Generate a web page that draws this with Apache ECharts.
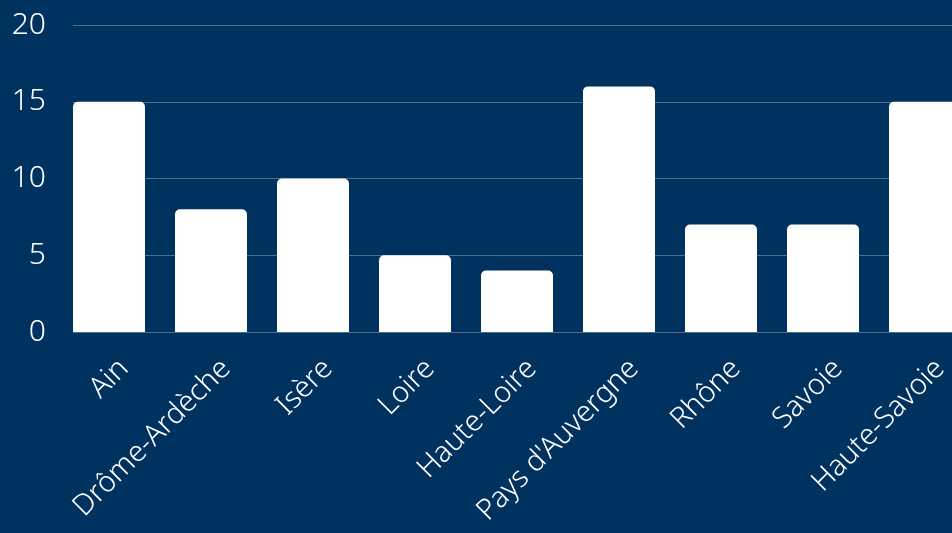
<!DOCTYPE html>
<html><head><meta charset="utf-8">
<script src="https://cdn.jsdelivr.net/npm/echarts@6/dist/echarts.min.js"></script>
<style>html,body{margin:0;padding:0;background:#00325f;overflow:hidden;width:952px;height:533px}#c{width:991px;height:533px}</style>
</head><body><div id="c"></div>
<script>
const categories = ["Ain","Drôme-Ardèche","Isère","Loire","Haute-Loire","Pays d'Auvergne","Rhône","Savoie","Haute-Savoie"];
const values = [15,8,10,5,4,16,7,7,15];
const yTicks = {min:0,max:20,interval:5};
const chart = echarts.init(document.getElementById('c'));
chart.setOption({
  backgroundColor:'#00325f',
  animation:false,
  grid:{left:73,right:0,top:25,bottom:201,containLabel:false},
  xAxis:{type:'category',data:categories,
    axisLine:{show:false},axisTick:{show:false},
    axisLabel:{color:'#fff',fontFamily:'Noto Sans',fontWeight:300,fontSize:29,rotate:45,margin:32,interval:0}},
  yAxis:{type:'value',min:yTicks.min,max:yTicks.max,interval:yTicks.interval,
    axisLine:{show:false},axisTick:{show:false},
    axisLabel:{color:'#fff',fontFamily:'Noto Sans',fontWeight:300,fontSize:30,margin:27,align:'right'},
    splitLine:{lineStyle:{color:'rgba(255,255,255,0.3)',width:1}}},
  series:[
    {type:'bar',data:values,barWidth:72,barGap:0,itemStyle:{color:'#fff',borderRadius:[5,5,0,0]}},
    {type:'bar',data:categories.map(()=>null),barWidth:30,itemStyle:{color:'transparent'}}
  ]
});
</script></body></html>
